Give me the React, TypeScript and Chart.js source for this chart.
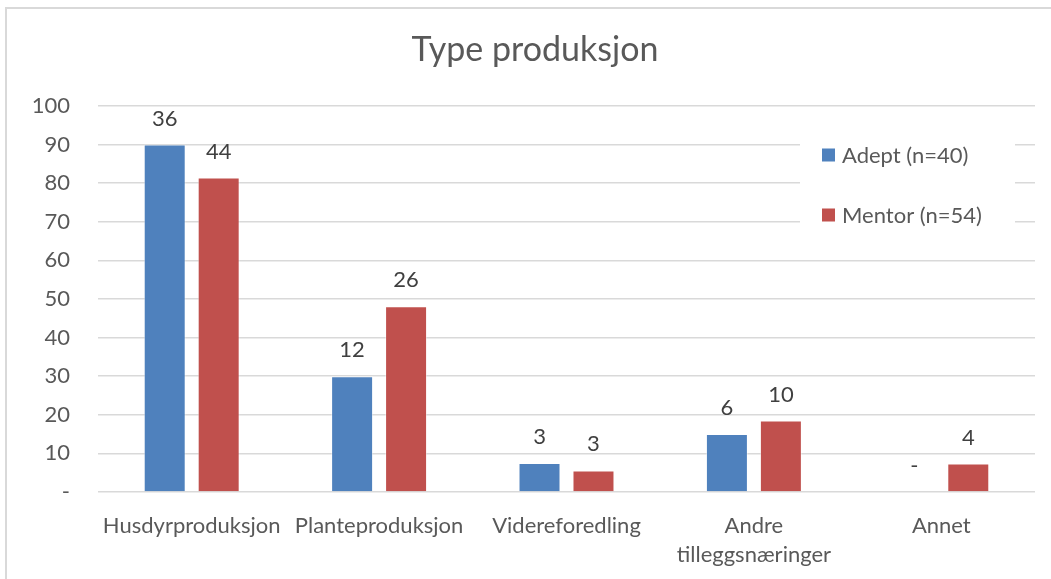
import React, { useEffect, useRef } from "react";
import { Chart, registerables } from "chart.js";

Chart.register(...registerables);

const categories: (string | string[])[] = [
  "Husdyrproduksjon",
  "Planteproduksjon",
  "Videreforedling",
  ["Andre", "tilleggsnæringer"],
  "Annet",
];
const seriesNames = ["Adept (n=40)", "Mentor (n=54)"];
const adeptPct = [90, 30, 7.5, 15, 0];
const mentorPct = [81.5, 48.1, 5.6, 18.5, 7.4];
const adeptCounts = [36, 12, 3, 6, 0];
const mentorCounts = [44, 26, 3, 10, 4];
const titleText = "Type produksjon";

const FONT = "Lato, 'Open Sans', sans-serif";
const AXIS_COLOR = "#595959";
const LABEL_COLOR = "#404040";
const GRID = "#d9d9d9";

export default function App() {
  const ref = useRef<HTMLCanvasElement | null>(null);

  useEffect(() => {
    const canvas = ref.current;
    if (!canvas) return;
    const counts = [adeptCounts, mentorCounts];

    const labelPlugin = {
      id: "labels",
      afterDatasetsDraw(chart: any) {
        const ctx = chart.ctx;
        ctx.save();
        ctx.font = `22px ${FONT}`;
        ctx.fillStyle = LABEL_COLOR;
        ctx.textAlign = "center";
        ctx.textBaseline = "middle";
        chart.data.datasets.forEach((ds: any, di: number) => {
          const meta = chart.getDatasetMeta(di);
          meta.data.forEach((el: any, i: number) => {
            const c = counts[di][i];
            ctx.fillText(c === 0 ? "-" : String(c), el.x, el.y - 26);
          });
        });
        ctx.restore();
      },
    };

    const titleLegendPlugin = {
      id: "titleLegend",
      beforeDatasetsDraw(chart: any) {
        const ctx = chart.ctx;
        ctx.save();
        ctx.fillStyle = "#ffffff";
        ctx.fillRect(800, 126, 215, 118);
        ctx.font = `22px ${FONT}`;
        ctx.textAlign = "left";
        ctx.textBaseline = "middle";
        chart.data.datasets.forEach((ds: any, di: number) => {
          const y = 155 + di * 60;
          ctx.fillStyle = ds.backgroundColor;
          ctx.fillRect(822, y - 6.5, 13, 13);
          ctx.fillStyle = AXIS_COLOR;
          ctx.fillText(ds.label, 842, y + 1);
        });
        ctx.restore();
      },
      afterDraw(chart: any) {
        const ctx = chart.ctx;
        ctx.save();
        ctx.font = `34px ${FONT}`;
        ctx.fillStyle = AXIS_COLOR;
        ctx.textAlign = "center";
        ctx.textBaseline = "middle";
        ctx.fillText(titleText, 535, 50);
        ctx.restore();
      },
    };

    const chart = new Chart(canvas, {
      type: "bar",
      data: {
        labels: categories,
        datasets: [
          {
            label: seriesNames[0],
            data: adeptPct,
            backgroundColor: "#4F81BD",
            borderColor: "rgba(255,255,255,0.45)",
            borderWidth: 1,
            categoryPercentage: 0.576,
            barPercentage: 0.778,
          },
          {
            label: seriesNames[1],
            data: mentorPct,
            backgroundColor: "#C0504D",
            borderColor: "rgba(255,255,255,0.45)",
            borderWidth: 1,
            categoryPercentage: 0.576,
            barPercentage: 0.778,
          },
        ],
      },
      options: {
        responsive: false,
        animation: false,
        layout: { padding: { top: 106, right: 16, left: 0, bottom: 0 } },
        plugins: {
          legend: { display: false },
          title: { display: false },
          tooltip: { enabled: false },
        },
        scales: {
          x: {
            grid: { display: false },
            border: { display: false },
            ticks: {
              color: AXIS_COLOR,
              font: { family: FONT, size: 22, lineHeight: 1.3 },
              padding: 12,
              maxRotation: 0,
              autoSkip: false,
            },
            afterFit(scale: any) {
              scale.height = 87;
            },
          },
          y: {
            min: 0,
            max: 100,
            grid: { color: GRID, lineWidth: 1.5, drawTicks: false },
            border: { display: false },
            ticks: {
              stepSize: 10,
              color: AXIS_COLOR,
              font: { family: FONT, size: 22 },
              padding: 28,
              callback: (v: any) => (v === 0 ? "-" : String(v)),
            },
            afterFit(scale: any) {
              scale.width = 98;
            },
          },
        },
      },
      plugins: [labelPlugin, titleLegendPlugin],
    });
    return () => chart.destroy();
  }, []);

  return (
    <div
      style={{
        position: "fixed",
        left: 0,
        top: 0,
        width: 1051,
        height: 579,
        background: "#fff",
        overflow: "hidden",
      }}
    >
      <canvas
        ref={ref}
        width={1051}
        height={579}
        style={{ position: "absolute", left: 0, top: 0, width: 1051, height: 579 }}
      />
      <div
        style={{
          position: "absolute",
          left: 5,
          top: 7,
          width: 1100,
          height: 650,
          border: "2px solid #d9d9d9",
          pointerEvents: "none",
        }}
      />
    </div>
  );
}
